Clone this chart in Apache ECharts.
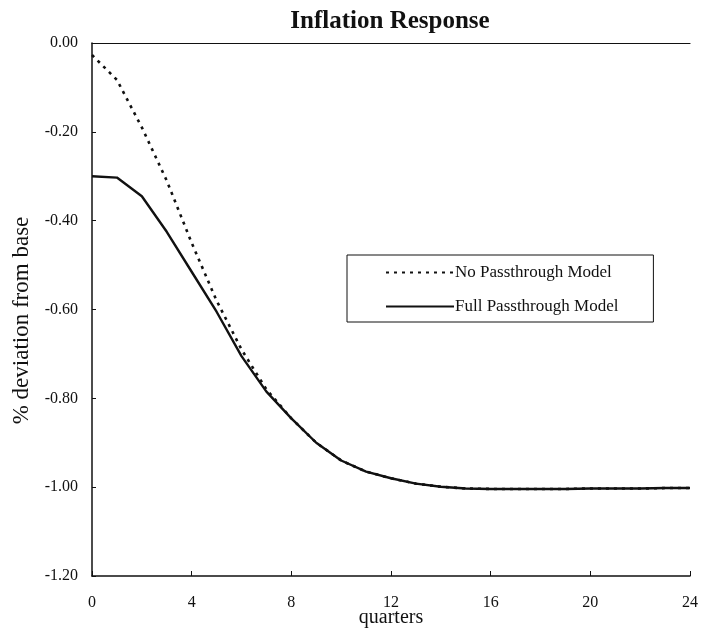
<!DOCTYPE html>
<html>
<head>
<meta charset="utf-8">
<script src="https://cdn.jsdelivr.net/npm/echarts@6/dist/echarts.min.js"></script>
<style>
  html, body { margin: 0; padding: 0; background: #fff; }
  #chart { width: 715px; height: 635px; }
</style>
</head>
<body>
<div id="chart"></div>
<script>
// Quarters after the shock
const quarters = [0, 1, 2, 3, 4, 5, 6, 7, 8, 9, 10, 11, 12, 13, 14, 15, 16, 17, 18, 19, 20, 21, 22, 23, 24];

// Inflation response, % deviation from base
const noPassthrough = [-0.027, -0.083, -0.19, -0.31, -0.45, -0.58, -0.69, -0.78, -0.845, -0.90, -0.94, -0.965, -0.98, -0.992, -0.999, -1.003, -1.004, -1.004, -1.004, -1.004, -1.003, -1.003, -1.003, -1.002, -1.002];
const fullPassthrough = [-0.30, -0.303, -0.345, -0.425, -0.515, -0.605, -0.705, -0.785, -0.845, -0.90, -0.94, -0.965, -0.98, -0.992, -0.999, -1.003, -1.004, -1.004, -1.004, -1.004, -1.003, -1.003, -1.003, -1.002, -1.002];

const xTicks = [0, 4, 8, 12, 16, 20, 24];
const yTicks = [0, -0.2, -0.4, -0.6, -0.8, -1.0, -1.2];

const seriesNames = ['No Passthrough Model', 'Full Passthrough Model'];

const FONT = '"Liberation Serif", "DejaVu Serif", serif';

const chart = echarts.init(document.getElementById('chart'));

const pairs = arr => quarters.map((q, i) => [q, arr[i]]);

chart.setOption({
  backgroundColor: '#ffffff',
  animation: false,
  title: {
    text: 'Inflation Response',
    left: 385,
    textAlign: 'center',
    top: 4,
    textStyle: { fontFamily: FONT, fontSize: 25, fontWeight: 'bold', color: '#111' }
  },
  legend: {
    orient: 'vertical',
    left: 347,
    top: 255,
    padding: [9, 35, 7, 38],
    itemGap: 17,
    itemWidth: 68,
    itemHeight: 18,
    borderColor: '#111',
    borderWidth: 1,
    borderRadius: 0,
    data: seriesNames,
    itemStyle: { color: 'transparent', borderWidth: 0, opacity: 0 },
    textStyle: { fontFamily: FONT, fontSize: 17, color: '#111', padding: [0, 0, 0, -4] }
  },
  grid: { left: 92, right: 25, top: 43, bottom: 59, outerBoundsMode: 'none', containLabel: false },
  xAxis: [
    {
      type: 'value',
      min: 0,
      max: 24,
      interval: 4,
      name: 'quarters',
      nameLocation: 'middle',
      nameGap: 32,
      nameMoveOverlap: false,
      nameTextStyle: { fontFamily: FONT, fontSize: 20, color: '#111' },
      axisLine: { show: true, onZero: false, lineStyle: { color: '#111', width: 1.5 } },
      axisTick: { show: true, inside: true, length: 5, lineStyle: { color: '#111' } },
      axisLabel: {
        fontFamily: FONT, fontSize: 16, color: '#111', margin: 19,
        customValues: xTicks
      },
      splitLine: { show: false }
    },
    {
      type: 'value',
      position: 'top',
      min: 0,
      max: 24,
      axisLine: { show: true, onZero: false, lineStyle: { color: '#111', width: 1.2 } },
      axisTick: { show: false },
      axisLabel: { show: false },
      splitLine: { show: false }
    }
  ],
  yAxis: {
    type: 'value',
    min: -1.2,
    max: 0,
    interval: 0.2,
    name: '% deviation from base',
    nameLocation: 'middle',
    nameGap: 59,
    nameMoveOverlap: false,
    nameTextStyle: { fontFamily: FONT, fontSize: 23, color: '#111', padding: [0, 22, 0, 0] },
    axisLine: { show: true, onZero: false, lineStyle: { color: '#111', width: 1.5 } },
    axisTick: { show: true, inside: true, length: 4, lineStyle: { color: '#111' } },
    axisLabel: {
      fontFamily: FONT, fontSize: 16, color: '#111', margin: 14,
      customValues: yTicks,
      formatter: v => (Math.abs(v) < 1e-9 ? 0 : v).toFixed(2)
    },
    splitLine: { show: false }
  },
  series: [
    {
      name: seriesNames[0],
      type: 'line',
      data: pairs(noPassthrough),
      symbol: 'none',
      smooth: false,
      lineStyle: { color: '#111', width: 2.6, type: [3, 5] },
      itemStyle: { color: '#111' },
      z: 3
    },
    {
      name: seriesNames[1],
      type: 'line',
      data: pairs(fullPassthrough),
      symbol: 'none',
      smooth: false,
      lineStyle: { color: '#111', width: 2.4, type: 'solid' },
      itemStyle: { color: '#111' },
      z: 2
    }
  ]
});
</script>
</body>
</html>
